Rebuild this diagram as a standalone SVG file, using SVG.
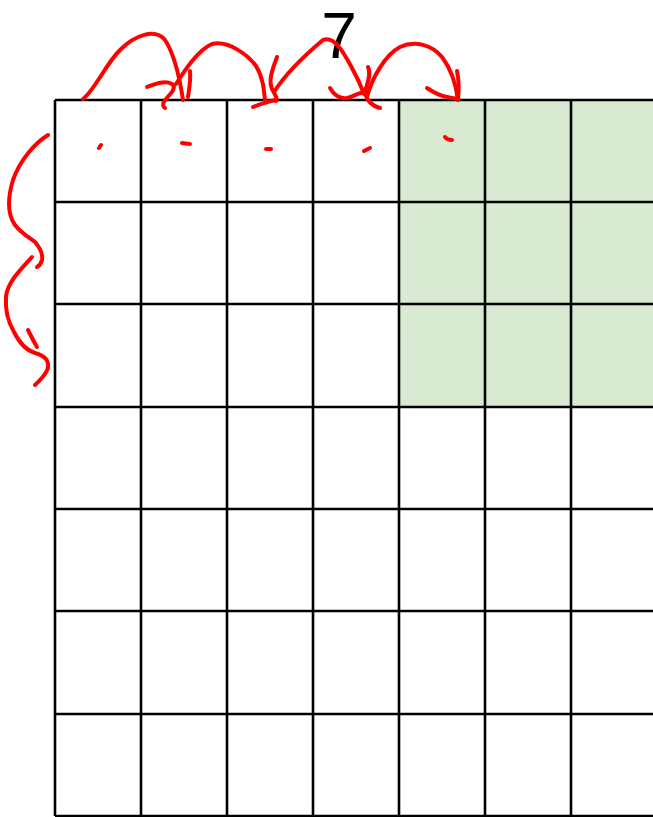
<svg xmlns="http://www.w3.org/2000/svg" width="653" height="817" viewBox="0 0 653 817">
<style>
.grid{stroke:#000;stroke-width:2.6;fill:none}
.ink{stroke:#ff0000;stroke-width:4;fill:none;stroke-linecap:round;stroke-linejoin:round}
.lbl{font-family:"Liberation Sans",Arial,sans-serif;font-size:64px;fill:#000}
</style>
<rect width="653" height="817" fill="#fff"/>
<g id="highlight"><rect x="399" y="100" width="260" height="307" fill="#d9ead3"/></g>
<g id="grid">
<path class="grid" d="M55,100H660M55,202H660M55,304H660M55,407H660M55,509H660M55,611H660M55,714H660M55,816H660"/>
<path class="grid" d="M55,100V816M141,100V816M227,100V816M313,100V816M399,100V816M485,100V816M571,100V816"/>
</g>
<g id="label"><text class="lbl" x="339" y="58" text-anchor="middle">7</text></g>
<g id="connectors">
<path class="ink" d="M83,99C95,90 105,65 120,50C135,35 155,28 165,40C175,55 180,80 183,100"/>
<path class="ink" d="M147,87C155,84 165,80 172,84C178,88 168,96 165,100C162,104 163,107 165,108"/>
<path class="ink" d="M190,71C191,80 189,90 188,97"/>
<path class="ink" d="M176,84C185,70 198,50 212,44C228,40 248,55 256,66C263,77 264,90 265,100"/>
<path class="ink" d="M253,107C260,104 268,102 275,100"/>
<path class="ink" d="M277,57C273,68 268,80 272,89C276,96 278,100 276,101"/>
<path class="ink" d="M274,92C285,75 305,55 323,40C335,35 345,55 352,68C357,77 361,86 364,94"/>
<path class="ink" d="M330,88C334,95 340,99 347,98C353,97 358,93 361,93"/>
<path class="ink" d="M368,67C372,75 366,86 365,92C366,100 372,106 380,108"/>
<path class="ink" d="M367,97C372,78 385,55 400,47C415,40 432,45 442,57C452,70 456,85 458,100"/>
<path class="ink" d="M427,88C433,92 440,96 447,97C451,98 455,99 457,98"/>
<path class="ink" d="M457,71C459,80 459,90 458,100"/>
<path class="ink" d="M48,135C35,143 20,160 13,180C7,200 8,215 15,225C22,234 30,238 35,242C40,248 43,255 42,260C41,264 39,266 37,267"/>
<path class="ink" d="M32,257C20,270 8,282 6,296C5,310 8,322 14,332C19,342 25,350 35,353C45,356 49,360 48,368C46,375 40,380 35,385"/>
<path class="ink" d="M28,330C31,336 34,342 37,347"/>
<path class="ink" d="M99,148L101,145"/>
<path class="ink" d="M182,143L190,144"/>
<path class="ink" d="M266,149L271,149"/>
<path class="ink" d="M364,151L370,148"/>
<path class="ink" d="M445,137C447,140 450,140 452,140"/>
</g>
</svg>
